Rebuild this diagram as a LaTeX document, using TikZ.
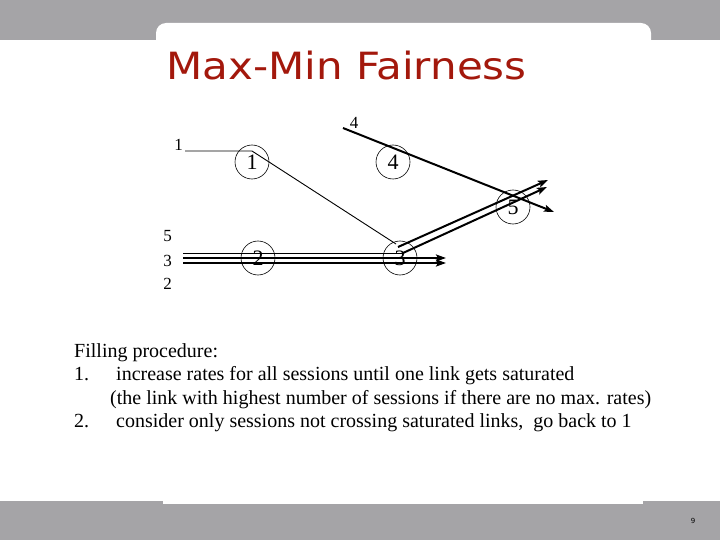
\documentclass[tikz,border=0pt]{standalone}
\usepackage{fontspec}
\setmainfont{Liberation Serif}
\newfontfamily\titlefont{DejaVu Sans}
\newfontfamily\pagefont{DejaVu Sans}
\usetikzlibrary{arrows.meta}
\definecolor{bandgray}{RGB}{165,164,167}
\definecolor{titlered}{RGB}{163,24,12}
\begin{document}
\begin{tikzpicture}[x=1pt,y=-1pt,
  router/.style={circle,draw,line width=0.6pt,minimum size=34pt,inner sep=0pt,font=\fontsize{22}{22}\selectfont},
  lbl/.style={font=\fontsize{17}{17}\selectfont,inner sep=0pt},
  flowthin/.style={line width=0.9pt},
  flowthick/.style={line width=2pt},
  tip/.style={-{Stealth[length=10pt,width=7pt,inset=2pt]}},
  body/.style={anchor=base west,inner sep=0pt,font=\fontsize{20}{24}\selectfont}
]
\useasboundingbox (0,0) rectangle (720,540);
\fill[white] (0,0) rectangle (720,540);
% top band with tab
\fill[bandgray] (0,0) rectangle (720,40);
\fill[white,rounded corners=10pt] (156,23) rectangle (651,70);
% bottom band
\fill[bandgray] (0,501) rectangle (720,540);
\fill[white] (163,501) rectangle (643,504);
\node[font=\pagefont\fontsize{7}{7}\selectfont,inner sep=0pt] (pg) at (693,521) {9};

% title
\node[anchor=base west,inner sep=0pt,text=titlered,font=\titlefont\fontsize{37.5}{40}\selectfont] (title) at (166,80) {\scalebox{1.12}[1]{Max-Min Fairness}};

% routers
\node[router] (n1) at (252,162) {1};
\node[router] (n4) at (393,162) {4};
\node[router] (n2) at (258,258) {2};
\node[router] (n3) at (400,258) {3};
\node[router] (n5) at (513,207) {5};

% session labels
\node[lbl] (l1) at (178.5,145) {1};
\node[lbl] (l4) at (354,122.5) {4};
\node[lbl] (l5) at (167.5,236) {5};
\node[lbl] (l3) at (167.5,261) {3};
\node[lbl] (l2) at (167.5,284) {2};

% coordinates of the session paths
\coordinate (s1a) at (185,151);
\coordinate (s1b) at (252,151);
\coordinate (s1c) at (396,244);
\coordinate (s1d) at (398,247);
\coordinate (s1e) at (548,180);
\coordinate (s4a) at (343,128);
\coordinate (s4b) at (554,212);
\coordinate (s5a) at (183,253);
\coordinate (s5b) at (403,253);
\coordinate (s5c) at (547,187);
\coordinate (s3a) at (183,258);
\coordinate (s3b) at (446,258);
\coordinate (s2a) at (183,263);
\coordinate (s2b) at (446,263);

% session 1
\draw[flowthin] (s1a) -- (s1b) -- (s1c);
\draw[flowthick,tip] (s1d) -- (s1e);
% session 4
\draw[flowthick,tip] (s4a) -- (s4b);
% session 5
\draw[flowthin] (s5a) -- (s5b);
\draw[flowthick,tip] (s5b) -- (s5c);
% sessions 3 and 2
\draw[flowthick,tip] (s3a) -- (s3b);
\draw[flowthick,tip] (s2a) -- (s2b);

% text
\node[body] (t0) at (74,357) {Filling procedure:};
\node[body] (t1n) at (74,380) {1.};
\node[body] (t1) at (116,380) {increase rates for all sessions until one link gets saturated};
\node[body] (t2) at (110,404) {(the link with highest number of sessions if there are no max. rates)};
\node[body] (t3n) at (74,427) {2.};
\node[body] (t3) at (116,427) {consider only sessions not crossing saturated links,\ \ go back to 1};
\end{tikzpicture}
\end{document}
